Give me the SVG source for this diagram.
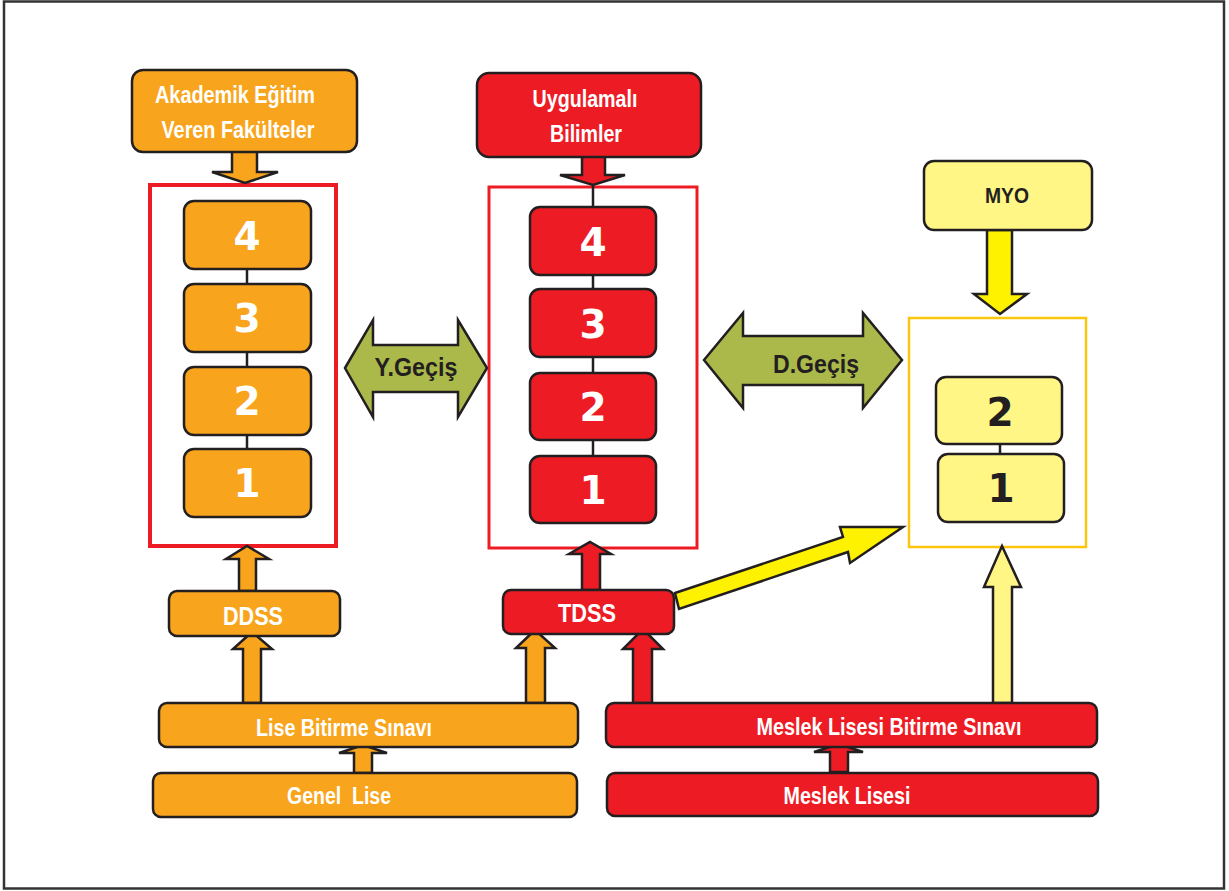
<svg xmlns="http://www.w3.org/2000/svg" width="1229" height="891" viewBox="0 0 1229 891">
<style>
.o{fill:#f8a51d;stroke:#231f20;stroke-width:2.5}
.r{fill:#ed1c24;stroke:#231f20;stroke-width:2.5}
.y{fill:#fff685;stroke:#231f20;stroke-width:2.5}
.yb{fill:#fff200;stroke:#231f20;stroke-width:2.5}
.g{fill:#abb94a;stroke:#231f20;stroke-width:2.5}
.t{font-family:"Liberation Sans",Arial,sans-serif;font-weight:bold;fill:#fff;text-anchor:middle;white-space:pre}
.td{font-family:"Liberation Sans",Arial,sans-serif;font-weight:bold;fill:#231f20;text-anchor:middle}
.n{font-family:"DejaVu Sans",Verdana,sans-serif;font-weight:bold;font-size:39px;fill:#fff;text-anchor:middle}
.nd{font-family:"DejaVu Sans",Verdana,sans-serif;font-weight:bold;font-size:39px;fill:#231f20;text-anchor:middle}
.ln{stroke:#231f20;stroke-width:2.5;fill:none}
</style>
<rect x="4" y="1.5" width="1220" height="887" fill="#fff" stroke="#333" stroke-width="2.5"/>

<g id="c-left"><rect x="150" y="185" width="186" height="361" fill="none" stroke="#ed1c24" stroke-width="4"/></g>
<g id="c-mid"><rect x="489" y="187" width="208" height="361" fill="none" stroke="#ed1c24" stroke-width="3"/></g>
<g id="c-myo"><rect x="909" y="318" width="177" height="229" fill="none" stroke="#fcc60e" stroke-width="2.5"/></g>

<g id="connectors">
<line class="ln" x1="247" y1="269" x2="247" y2="284"/>
<line class="ln" x1="247" y1="352" x2="247" y2="367"/>
<line class="ln" x1="247" y1="435" x2="247" y2="449"/>
<line class="ln" x1="593" y1="184" x2="593" y2="207"/>
<line class="ln" x1="593" y1="275" x2="593" y2="289"/>
<line class="ln" x1="593" y1="357" x2="593" y2="373"/>
<line class="ln" x1="593" y1="440" x2="593" y2="456"/>
<line class="ln" x1="1000" y1="444" x2="1000" y2="456"/>
<polygon class="o" points="232,151 257,151 257,172 278,172 245,183 212,172 232,172"/>
<polygon class="r" points="582,156 605,156 605,175 625,175 593,185 560,175 582,175"/>
<polygon class="yb" points="987,230 1012,230 1012,294 1027,294 1000,314 974,294 987,294"/>
<polygon class="g" points="345,368 373,320 373,345 458,345 458,320 487,368 458,417 458,392 373,392 373,417"/>
<polygon class="g" points="704,360 743,313 743,336 863,336 863,313 902,360 863,408 863,385 743,385 743,408"/>
<polygon class="o" points="239,591 239,559 226,559 247,546 269,559 256,559 256,591"/>
<polygon class="o" points="243,703 243,649 233,649 252,632 272,649 261,649 261,703"/>
<polygon class="o" points="526,703 526,648 516,648 535,630 555,648 545,648 545,703"/>
<polygon class="r" points="582,590 582,554 569,554 590,542 611,554 600,554 600,590"/>
<polygon class="r" points="633,703 633,649 623,649 643,629 663,649 652,649 652,703"/>
<polygon class="o" points="354,773 354,753 339,753 363,745 387,753 372,753 372,773"/>
<polygon class="r" points="830,772 830,752 814,752 839,744 863,752 848,752 848,772"/>
<polygon class="y" points="993,703 993,587 984,587 1002,546 1021,587 1012,587 1012,703"/>
<polygon class="yb" points="675,593 843,537 840,527 903,527 850,563 848,552 679,609"/>
</g>

<g id="akademik"><rect class="o" x="132" y="70" width="225" height="82" rx="11"/>
<text class="t" x="235" y="103" font-size="23" textLength="160" lengthAdjust="spacingAndGlyphs">Akademik Eğitim</text>
<text class="t" x="238" y="138" font-size="23" textLength="153" lengthAdjust="spacingAndGlyphs">Veren Fakülteler</text></g>

<g id="uygulamali"><rect class="r" x="477" y="73" width="224" height="84" rx="12"/>
<text class="t" x="585" y="107" font-size="23" textLength="105" lengthAdjust="spacingAndGlyphs">Uygulamalı</text>
<text class="t" x="586" y="142" font-size="23" textLength="72" lengthAdjust="spacingAndGlyphs">Bilimler</text></g>

<g id="myo"><rect class="y" x="924" y="161" width="168" height="69" rx="10"/>
<text class="td" x="1007" y="203" font-size="22" textLength="44" lengthAdjust="spacingAndGlyphs">MYO</text></g>

<g id="l4"><rect class="o" x="184" y="201" width="127" height="68" rx="10"/><text class="n" x="247" y="250">4</text></g>
<g id="l3"><rect class="o" x="184" y="284" width="127" height="68" rx="10"/><text class="n" x="247" y="332">3</text></g>
<g id="l2"><rect class="o" x="184" y="367" width="127" height="68" rx="10"/><text class="n" x="247" y="415">2</text></g>
<g id="l1"><rect class="o" x="184" y="449" width="127" height="68" rx="10"/><text class="n" x="247" y="497">1</text></g>

<g id="m4"><rect class="r" x="530" y="207" width="126" height="68" rx="10"/><text class="n" x="593" y="256">4</text></g>
<g id="m3"><rect class="r" x="530" y="289" width="126" height="68" rx="10"/><text class="n" x="593" y="338">3</text></g>
<g id="m2"><rect class="r" x="530" y="373" width="126" height="67" rx="10"/><text class="n" x="593" y="421">2</text></g>
<g id="m1"><rect class="r" x="530" y="456" width="126" height="67" rx="10"/><text class="n" x="593" y="504">1</text></g>

<g id="y2"><rect class="y" x="936" y="377" width="126" height="67" rx="10"/><text class="nd" x="1000" y="426">2</text></g>
<g id="y1"><rect class="y" x="938" y="454" width="126" height="68" rx="10"/><text class="nd" x="1001" y="502">1</text></g>

<g id="ygecis"><text class="td" x="416" y="376" font-size="25" textLength="83" lengthAdjust="spacingAndGlyphs">Y.Geçiş</text></g>
<g id="dgecis"><text class="td" x="816" y="373" font-size="25" textLength="86" lengthAdjust="spacingAndGlyphs">D.Geçiş</text></g>

<g id="ddss"><rect class="o" x="169" y="591" width="171" height="45" rx="8"/>
<text class="t" x="253" y="625" font-size="25" textLength="60" lengthAdjust="spacingAndGlyphs">DDSS</text></g>
<g id="tdss"><rect class="r" x="503" y="590" width="171" height="44" rx="8"/>
<text class="t" x="587" y="622" font-size="25" textLength="58" lengthAdjust="spacingAndGlyphs">TDSS</text></g>

<g id="lbs"><rect class="o" x="159" y="703" width="419" height="44" rx="8"/>
<text class="t" x="344" y="736" font-size="23" textLength="176" lengthAdjust="spacingAndGlyphs">Lise Bitirme Sınavı</text></g>
<g id="genel"><rect class="o" x="153" y="773" width="424" height="44" rx="8"/>
<text class="t" x="339" y="804" font-size="23" textLength="104" lengthAdjust="spacingAndGlyphs" xml:space="preserve">Genel  Lise</text></g>
<g id="mlbs"><rect class="r" x="606" y="703" width="491" height="44" rx="8"/>
<text class="t" x="889" y="735" font-size="23" textLength="265" lengthAdjust="spacingAndGlyphs">Meslek Lisesi Bitirme Sınavı</text></g>
<g id="ml"><rect class="r" x="607" y="773" width="491" height="43" rx="8"/>
<text class="t" x="847" y="804" font-size="23" textLength="127" lengthAdjust="spacingAndGlyphs">Meslek Lisesi</text></g>
</svg>
